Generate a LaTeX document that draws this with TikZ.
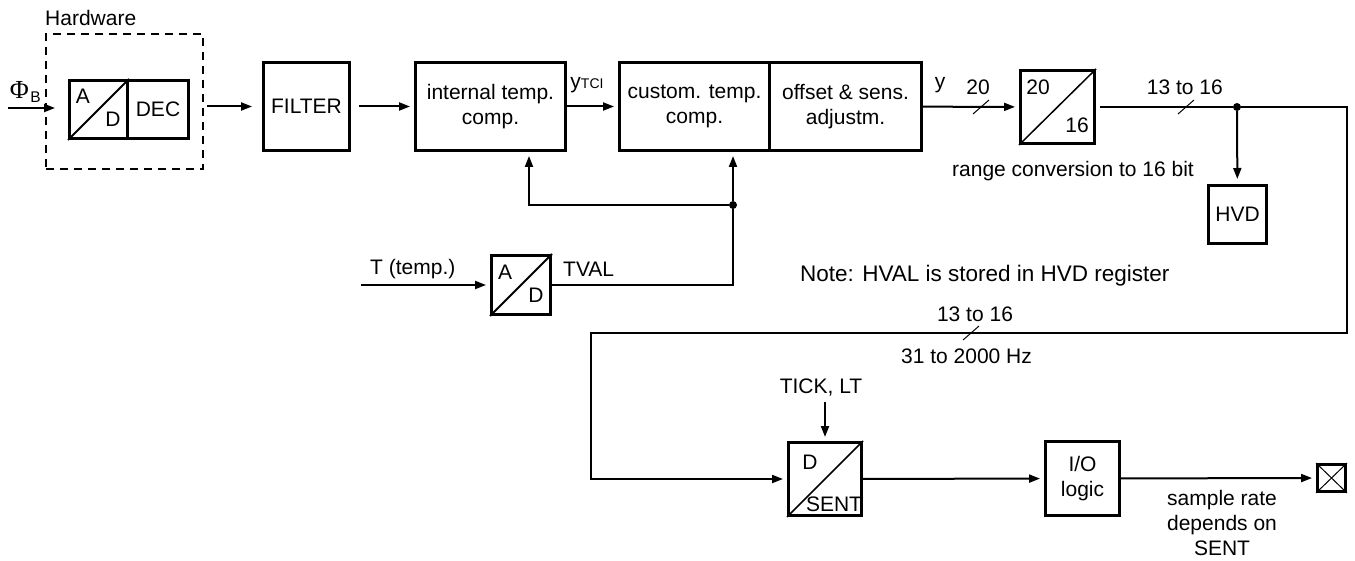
\documentclass[tikz,border=0pt]{standalone}
\usepackage{fontspec}
\setmainfont{Liberation Sans}
\newfontfamily\greekfont{Liberation Serif}
\usetikzlibrary{arrows.meta}

\begin{document}
\begin{tikzpicture}[x=1pt,y=-1pt,
  font=\fontsize{21}{25}\selectfont,
  blk/.style={draw,line width=3pt,inner sep=0pt,align=center},
  lbl/.style={inner sep=0pt},
  wire/.style={line width=2pt},
  arr/.style={wire,-{Triangle[length=11pt,width=8pt]},shorten >=4pt},
  diag/.style={line width=1.5pt},
  busmark/.style={line width=1pt},
  joint/.style={circle,fill,inner sep=0pt,minimum size=8pt}]
\path[use as bounding box] (0,0) rectangle (1355,561);
% hardware part
\node[draw,line width=2.3pt,dash pattern=on 8pt off 6pt,minimum width=157pt,minimum height=135pt] (hw) at (124.5,101.5) {};
\node[lbl,anchor=base west] (hwlbl) at (45,26) {Hardware};
\node[blk,minimum width=58pt,minimum height=58pt] (hwad) at (98.5,109.5) {};
\node[blk,minimum width=61pt,minimum height=58pt] (hwdec) at (158,109.5) {DEC};
\draw[line width=2pt] (hwad.south west) -- (hwad.north east);
\node[lbl,anchor=base] (hwa) at (83,104) {A};
\node[lbl,anchor=base] (hwd) at (113,127) {D};
\node[lbl] (phi) at (19.5,89.5) {\greekfont\fontsize{26}{26}\selectfont Φ};
\node[lbl,anchor=base] (phib) at (35.5,103) {\fontsize{15.5}{16}\selectfont B};
\coordinate (phin) at (8,108);
\coordinate (phend) at (55,108);
% processing chain
\node[blk,minimum width=86pt,minimum height=88pt] (filter) at (306.5,106.5) {FILTER};
\node[blk,minimum width=150pt,minimum height=88pt] (itc) at (490.5,106.5) {internal temp.\\comp.};
\node[blk,minimum width=150pt,minimum height=88pt] (ctc) at (694.5,106.5) {custom. temp.\\comp.};
\node[blk,minimum width=152pt,minimum height=88pt] (osa) at (845.5,106.5) {offset \& sens.\\adjustm.};
\node[lbl,anchor=base] (ytci) at (587,89) {y{\fontsize{14}{14}\selectfont TCI}};
\node[lbl,anchor=base] (ylbl) at (940,89) {y};
\node[lbl,anchor=base] (bits20) at (978,95) {20};
\node[blk,minimum width=74pt,minimum height=73pt] (rconv) at (1057.5,107) {};
\draw[diag] (rconv.south west) -- (rconv.north east);
\node[lbl,anchor=base] (rc20) at (1038,95) {20};
\node[lbl,anchor=base] (rc16) at (1077,133) {16};
\node[lbl,anchor=base west] (rclbl) at (952,177) {range conversion to 16 bit};
\node[lbl,anchor=base east] (bits1) at (1223,95) {13 to 16};
\node[joint] (hvj) at (1237,107) {};
\node[blk,minimum width=58pt,minimum height=58pt] (hvd) at (1237.5,214.5) {HVD};
\node[lbl,anchor=base west] (note) at (800,282) {\fontsize{22.5}{26}\selectfont Note: HVAL is stored in HVD register};
% temperature path
\node[blk,minimum width=59pt,minimum height=59pt] (tad) at (521,285) {};
\draw[line width=2pt] (tad.south west) -- (tad.north east);
\node[lbl,anchor=base] (tada) at (505,280) {A};
\node[lbl,anchor=base] (tadd) at (536,303) {D};
\node[lbl,anchor=base west] (tlbl) at (370,275) {T (temp.)};
\node[lbl,anchor=base west] (tval) at (563,277) {TVAL};
\coordinate (tin) at (361,285);
\node[joint] (tvj) at (733,205) {};
\coordinate (fbl) at (529,205);
% output part
\node[blk,minimum width=73pt,minimum height=73pt] (sent) at (825,479) {};
\draw[diag] (sent.south west) -- (sent.north east);
\node[lbl,anchor=base] (sentd) at (810,469) {D};
\node[lbl,anchor=base] (sents) at (834,511) {SENT};
\node[blk,minimum width=74pt,minimum height=74pt] (io) at (1082.5,478.5) {I/O\\logic};
\node[blk,minimum width=28pt,minimum height=27pt] (pin) at (1331.5,478) {};
\draw[line width=1pt] (pin.north west) -- (pin.south east) (pin.south west) -- (pin.north east);
\node[lbl,anchor=base,align=center] (rate) at (1222,555) {sample rate\\depends on\\SENT};
\coordinate (tick) at (825,402);
\node[lbl,anchor=base] (ticklbl) at (821,393) {TICK, LT};
\coordinate (rtop) at (1347,107);
\coordinate (lbot) at (591,333);
\node[lbl,anchor=base] (bits2) at (975,322) {13 to 16};
\node[lbl,anchor=base] (freq) at (966.5,363) {31 to 2000 Hz};
% connectors
\draw[arr,shorten >=0pt] (phin) -- (phend);
\draw[arr,shorten <=3pt,shorten >=10pt] (hw.east |- filter.west) -- (filter.west);
\draw[arr,shorten <=8pt] (filter) -- (itc);
\draw[arr] (itc) -- (ctc);
\draw[arr] (osa) -- (rconv);
\draw[wire,shorten <=4pt] (rconv) -- (hvj);
\draw[arr,shorten >=5pt] (hvj) -- (hvd);
\draw[arr] (hvj) -- (rtop) |- (lbot) |- (sent.west);
\draw[arr] (tin) -- (tad);
\draw[wire] (tad.east) -| (tvj);
\draw[arr] (tvj) -- (ctc.south -| tvj);
\draw[arr] (tvj) -- (fbl) -- (itc.south -| fbl);
\draw[arr] (tick) -- (sent);
\draw[arr] (sent) -- (io);
\draw[arr] (io) -- (pin);
% bus width marks
\draw[busmark] (981,107) ++(-8,7) -- ++(16,-14);
\draw[busmark] (1186,107) ++(-8,7) -- ++(16,-14);
\draw[busmark] (971,333) ++(-8,7) -- ++(16,-14);
\end{tikzpicture}
\end{document}
